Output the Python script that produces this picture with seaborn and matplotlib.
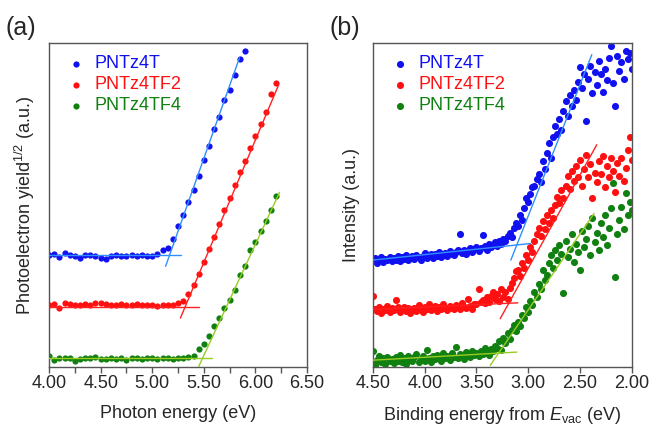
import numpy as np
import pandas as pd
import seaborn as sns
import matplotlib.pyplot as plt
from matplotlib.ticker import MultipleLocator, FormatStrFormatter

# (a) photoelectron yield spectroscopy, photon energy in eV
photon_ev = [4.00, 4.05, 4.10, 4.15, 4.20, 4.25, 4.30, 4.35, 4.40, 4.45,
             4.50, 4.55, 4.60, 4.65, 4.70, 4.75, 4.80, 4.85, 4.90, 4.95,
             5.00, 5.05, 5.10, 5.15, 5.20, 5.25, 5.30, 5.35, 5.40, 5.45,
             5.50, 5.55, 5.60, 5.65, 5.70, 5.75, 5.80, 5.85, 5.90, 5.95,
             6.00, 6.05, 6.10, 6.15, 6.20]

pys_4t = [3.47, 3.50, 3.40, 3.52, 3.47, 3.44, 3.36, 3.47, 3.47, 3.42,
          3.37, 3.34, 3.42, 3.47, 3.42, 3.44, 3.47, 3.44, 3.45, 3.44,
          3.42, 3.50, 3.60, 3.68, 3.95, 4.36, 4.70, 5.09, 5.47, 5.88,
          6.40, 6.81, 7.33, 7.72, 8.25, 8.56, 9.00, 9.52, 9.75]
pys_tf2 = [1.92, 1.95, 1.82, 1.98, 1.94, 1.92, 1.90, 1.94, 1.92, 1.98,
           1.96, 1.94, 1.92, 1.90, 1.94, 1.92, 1.90, 1.94, 1.92, 1.90,
           1.92, 1.88, 1.90, 1.92, 1.90, 1.98, 2.05, 2.25, 2.54, 2.88,
           3.24, 3.65, 4.01, 4.42, 4.84, 5.21, 5.63, 6.01, 6.36, 6.75,
           7.14, 7.50, 7.86, 8.41, 8.77]
pys_tf4 = [0.35, 0.21, 0.27, 0.29, 0.27, 0.17, 0.26, 0.28, 0.27, 0.30,
           0.26, 0.24, 0.29, 0.26, 0.28, 0.21, 0.27, 0.28, 0.25, 0.27,
           0.29, 0.26, 0.27, 0.28, 0.25, 0.27, 0.28, 0.30, 0.35, 0.56,
           0.71, 0.95, 1.26, 1.51, 1.82, 2.08, 2.39, 2.85, 3.11, 3.62,
           3.85, 4.19, 4.50, 4.86, 5.27]

# fitted lines of (a): (x0, x1), (y0, y1)
fit_a_4t = [((4.00, 5.28), (3.45, 3.45)), ((5.13, 5.845), (3.11, 9.54))]
fit_a_tf2 = [((4.00, 5.454), (1.85, 1.85)), ((5.273, 6.225), (1.51, 8.71))]
fit_a_tf4 = [((4.00, 5.583), (0.28, 0.28)), ((5.451, 6.234), (0.02, 5.39))]

# (b) UPS, binding energy from E_vac in eV
binding_ev = [4.50, 4.48, 4.46, 4.44, 4.42, 4.40, 4.38, 4.36, 4.34, 4.32,
              4.30, 4.28, 4.26, 4.24, 4.22, 4.20, 4.18, 4.16, 4.14, 4.12,
              4.10, 4.08, 4.06, 4.04, 4.02, 4.00, 3.98, 3.96, 3.94, 3.92,
              3.90, 3.88, 3.86, 3.84, 3.82, 3.80, 3.78, 3.76, 3.74, 3.72,
              3.70, 3.68, 3.66, 3.64, 3.62, 3.60, 3.58, 3.56, 3.54, 3.52,
              3.50, 3.48, 3.46, 3.44, 3.42, 3.40, 3.38, 3.36, 3.34, 3.32,
              3.30, 3.28, 3.26, 3.24, 3.22, 3.20, 3.18, 3.16, 3.14, 3.12,
              3.10, 3.08, 3.06, 3.04, 3.02, 3.00, 2.98, 2.96, 2.94, 2.92,
              2.90, 2.88, 2.86, 2.84, 2.82, 2.80, 2.78, 2.76, 2.74, 2.72,
              2.70, 2.68, 2.66, 2.64, 2.62, 2.60, 2.58, 2.56, 2.54, 2.52,
              2.50, 2.48, 2.46, 2.44, 2.42, 2.40, 2.38, 2.36, 2.34, 2.32,
              2.30, 2.28, 2.26, 2.24, 2.22, 2.20, 2.18, 2.16, 2.14, 2.12,
              2.10, 2.08, 2.06, 2.04, 2.02, 2.00]

ups_4t = [3.28, 3.36, 3.22, 3.31, 3.38, 3.25, 3.33, 3.29, 3.40, 3.27,
          3.35, 3.30, 3.42, 3.26, 3.38, 3.33, 3.45, 3.29, 3.36, 3.41,
          3.32, 3.47, 3.38, 3.30, 3.44, 3.52, 3.36, 3.41, 3.48, 3.35,
          3.50, 3.43, 3.56, 3.39, 3.47, 3.53, 3.42, 3.58, 3.49, 3.45,
          3.55, 3.62, 4.09, 3.51, 3.60, 3.48, 3.57, 3.66, 3.54, 3.63,
          3.70, 3.58, 3.67, 4.07, 3.73, 3.62, 3.80, 3.69, 3.75, 3.85,
          3.72, 3.90, 3.80, 3.95, 3.88, 4.05, 4.15, 4.00, 4.30, 4.45,
          4.35, 4.70, 4.55, 4.90, 5.20, 5.10, 5.35, 5.55, 5.60, 5.80,
          5.95, 5.70, 6.35, 6.10, 6.60, 6.90, 6.45, 7.10, 7.45, 7.20,
          7.65, 7.30, 7.90, 8.20, 7.75, 8.40, 8.05, 8.55, 8.25, 8.80,
          9.25, 8.60, 9.05, 7.60, 8.90, 9.30, 8.45, 9.10, 8.70, 9.45,
          9.05, 8.50, 9.20, 8.85, 9.55, 9.90, 8.75, 8.05, 9.60, 9.15,
          9.40, 8.90, 9.75, 9.50, 9.70, 9.20]
ups_tf2 = [2.19, 1.78, 1.72, 1.85, 1.68, 1.80, 1.75, 1.88, 1.70, 1.82,
           1.76, 2.07, 1.84, 1.69, 1.79, 1.86, 1.73, 1.81, 1.66, 1.78,
           1.83, 1.74, 1.90, 1.77, 1.71, 1.85, 1.80, 1.93, 1.76, 1.82,
           1.87, 1.72, 1.84, 1.79, 1.95, 1.81, 1.76, 1.89, 1.83, 1.78,
           1.91, 1.84, 1.80, 1.96, 1.86, 1.82, 2.10, 1.88, 1.79, 1.93,
           1.95, 2.40, 2.00, 2.08, 1.97, 2.15, 2.02, 2.20, 2.30, 2.10,
           2.25, 2.05, 2.40, 2.15, 2.30, 2.10, 2.45, 2.60, 2.75, 2.95,
           3.00, 2.80, 3.20, 3.05, 3.45, 3.30, 3.70, 3.55, 3.90, 4.10,
           4.30, 4.05, 4.50, 4.25, 4.70, 4.45, 4.85, 4.60, 5.00, 5.25,
           5.05, 5.45, 5.20, 5.60, 5.90, 5.50, 6.05, 5.75, 6.20, 5.85,
           6.40, 5.60, 6.10, 6.55, 5.85, 6.25, 5.20, 6.00, 5.70, 6.35,
           5.95, 6.50, 5.55, 6.20, 5.85, 6.45, 6.05, 5.40, 6.30, 5.90,
           6.45, 5.75, 6.15, 6.70, 7.10, 6.40]
ups_tf4 = [0.50, 0.05, 0.22, 0.35, 0.15, 0.28, 0.10, 0.30, 0.18, 0.25,
           0.12, 0.32, 0.20, 0.38, 0.15, 0.27, 0.08, 0.33, 0.22, 0.18,
           0.30, 0.40, 0.14, 0.26, 0.35, 0.20, 0.52, 0.28, 0.16, 0.34,
           0.24, 0.38, 0.30, 0.18, 0.42, 0.27, 0.35, 0.22, 0.44, 0.31,
           0.62, 0.28, 0.40, 0.34, 0.25, 0.45, 0.36, 0.30, 0.48, 0.38,
           0.42, 0.33, 0.50, 0.40, 0.58, 0.45, 0.38, 0.55, 0.48, 0.65,
           0.60, 0.80, 0.52, 0.90, 0.75, 1.05, 0.85, 1.15, 1.30, 1.10,
           1.40, 1.25, 1.60, 1.50, 1.85, 1.70, 2.05, 1.90, 2.30, 2.15,
           2.55, 2.40, 3.00, 2.70, 2.85, 3.20, 3.45, 3.05, 3.60, 3.30,
           3.75, 3.50, 2.29, 3.90, 3.40, 3.65, 4.10, 3.25, 3.80, 3.55,
           3.00, 4.20, 3.70, 3.95, 4.35, 3.45, 4.60, 3.85, 4.15, 3.60,
           4.45, 4.00, 4.70, 3.75, 4.30, 4.90, 5.68, 2.78, 4.10, 4.55,
           4.95, 4.25, 5.37, 4.70, 5.10, 4.85]

fit_b_4t = [((4.50, 2.98), (3.30, 3.81)), ((3.168, 2.386), (3.30, 9.64))]
fit_b_tf2 = [((4.50, 3.10), (1.78, 1.98)), ((3.271, 2.338), (1.49, 6.86))]
fit_b_tf4 = [((4.50, 3.11), (0.21, 0.46)), ((3.367, 2.364), (0.05, 4.74))]

names = ['PNTz4T', 'PNTz4TF2', 'PNTz4TF4']
dot_colors = ['#1010f0', '#ff1010', '#108010']
fit_colors = ['#2f8fff', '#ff2020', '#99cc22']

sns.set_theme(style='white')
plt.rcParams['font.family'] = ['Liberation Sans', 'DejaVu Sans']
plt.rcParams['mathtext.fontset'] = 'custom'
plt.rcParams['mathtext.rm'] = 'Liberation Sans'
plt.rcParams['mathtext.it'] = 'Liberation Sans:italic'

fig = plt.figure(figsize=(6.52, 4.25), dpi=100)
ax_a = fig.add_axes([0.0752, 0.1365, 0.3957, 0.7624])
ax_b = fig.add_axes([0.572, 0.1365, 0.397, 0.7624])

for ys, fits, name, c, fc in zip([pys_4t, pys_tf2, pys_tf4],
                                  [fit_a_4t, fit_a_tf2, fit_a_tf4],
                                  names, dot_colors, fit_colors):
    sns.scatterplot(x=photon_ev[:len(ys)], y=ys, ax=ax_a, color=c, s=20,
                    linewidth=0, label=name, zorder=2)
    for xs, yl in fits:
        ax_a.plot(xs, yl, color=fc, lw=1, zorder=3)

for ys, fits, name, c, fc in zip([ups_4t, ups_tf2, ups_tf4],
                                  [fit_b_4t, fit_b_tf2, fit_b_tf4],
                                  names, dot_colors, fit_colors):
    sns.scatterplot(x=binding_ev, y=ys, ax=ax_b, color=c, s=26,
                    linewidth=0, label=name, zorder=2)
    for xs, yl in fits:
        ax_b.plot(xs, yl, color=fc, lw=1, zorder=3)

ax_a.set_xlim(4.0, 6.5)
ax_b.set_xlim(4.5, 2.0)
ax_a.xaxis.set_major_locator(MultipleLocator(0.5))
ax_a.xaxis.set_minor_locator(MultipleLocator(0.25))
ax_b.xaxis.set_major_locator(MultipleLocator(0.5))

for ax in (ax_a, ax_b):
    ax.set_ylim(0, 10)
    ax.set_yticks([])
    ax.xaxis.set_major_formatter(FormatStrFormatter('%.2f'))
    ax.tick_params(axis='x', which='both', direction='out', length=4,
                   width=1, color='#555555', labelsize=13, pad=2,
                   bottom=True)
    for sp in ax.spines.values():
        sp.set_color('#555555')
        sp.set_linewidth(1)
    ax.legend(loc='upper left', bbox_to_anchor=(0.035, 0.995), frameon=False,
              fontsize=13, handlelength=0.8, handletextpad=0.6,
              labelspacing=0.22, borderaxespad=0.2, labelcolor=dot_colors)

ax_a.set_xlabel('Photon energy (eV)', fontsize=13, labelpad=9)
ax_a.set_ylabel('Photoelectron yield$^{1/2}$ (a.u.)', fontsize=13, labelpad=9)
ax_b.set_xlabel('Binding energy from $E_{\\mathrm{vac}}$ (eV)', fontsize=13, labelpad=9)
ax_b.set_ylabel('Intensity (a.u.)', fontsize=13, labelpad=9)

fig.text(0.008, 0.934, '(a)', fontsize=18, va='center')
fig.text(0.506, 0.934, '(b)', fontsize=18, va='center')

fig.savefig('out.png', dpi=100)
